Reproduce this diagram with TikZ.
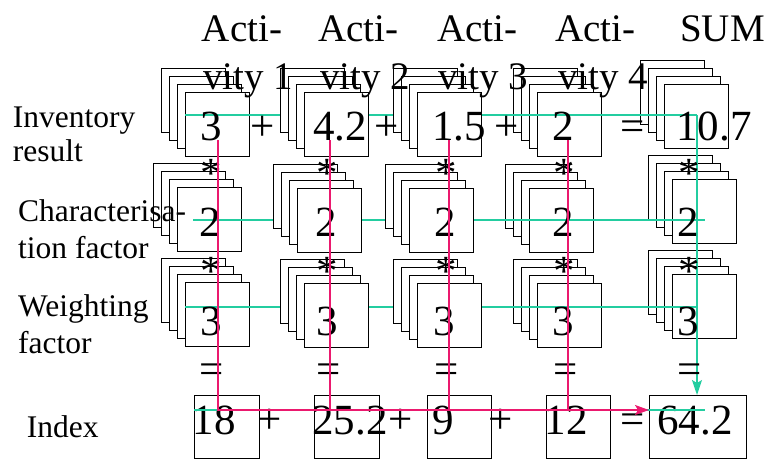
\documentclass[tikz,border=0pt]{standalone}
\usepackage{fontspec}
\setmainfont{Liberation Serif}
\usetikzlibrary{arrows.meta}
\definecolor{pinkc}{RGB}{235,25,110}
\definecolor{tealc}{RGB}{35,205,160}
\tikzset{
 sq/.style={draw=black, fill=white, line width=0.9pt, minimum width=64pt, minimum height=64pt, inner sep=0pt, outer sep=0pt, anchor=north west},
 ibox/.style={draw=black, line width=0.9pt, inner sep=0pt, outer sep=0pt, anchor=north west, minimum height=63pt},
 num/.style={font=\fontsize{43}{48}\selectfont, inner sep=0pt, anchor=base},
 hdr/.style={font=\fontsize{39}{47}\selectfont, inner sep=0pt, anchor=base west},
 lab/.style={font=\fontsize{31.5}{36}\selectfont, inner sep=0pt, anchor=base west},
 pinkline/.style={draw=pinkc, line width=1.4pt},
 tealline/.style={draw=tealc, line width=1.4pt},
 pinktip/.style={-{Stealth[length=14pt,width=10pt,inset=3pt]}},
}
\newcommand{\mystack}[3]{%
  \node[sq] (#1-3) at (#2-23.4,#3-24) {};
  \node[sq] (#1-2) at (#2-15.6,#3-16) {};
  \node[sq] (#1-1) at (#2-7.8,#3-8) {};
  \node[sq] (#1) at (#2,#3) {};
}
\begin{document}
\begin{tikzpicture}[x=1pt,y=-1pt]
\useasboundingbox (0,0) rectangle (768,459);
% stacks below the teal lines
\mystack{r1c1}{185}{92}
\mystack{r2c1}{177}{187}
\mystack{r3c1}{185}{282}
\mystack{r1c4}{537}{92}
\mystack{r2c4}{529}{188}
\mystack{r3c4}{537}{283}
\mystack{r1s}{664}{84}
\mystack{r2s}{672}{179}
\mystack{r3s}{672}{274}
% index boxes
\node[ibox, minimum width=65pt] (ib1) at (194,395) {};
\node[ibox, minimum width=65pt] (ib2) at (314,395) {};
\node[ibox, minimum width=64pt] (ib3) at (427,395) {};
\node[ibox, minimum width=64pt] (ib4) at (546,395) {};
\node[ibox, minimum width=97pt] (ib5) at (649,395) {};
% teal coordinates
\coordinate (t1a) at (185,115);
\coordinate (t1b) at (697,115);
\coordinate (t2a) at (193,220);
\coordinate (t2b) at (705,220);
\coordinate (t3a) at (185,307);
\coordinate (t3b) at (697,307);
\coordinate (t4a) at (194,410);
\coordinate (t4b) at (705,410);
\coordinate (t1c) at (697,395);
\draw[tealline] (t2a) -- (t2b);
\draw[tealline] (t3a) -- (t3b);
\draw[tealline] (t1a) -- (t1b);
% stacks above the teal lines
\mystack{r1c2}{304}{92}
\mystack{r2c2}{297}{188}
\mystack{r3c2}{304}{283}
\mystack{r1c3}{417}{92}
\mystack{r2c3}{409}{188}
\mystack{r3c3}{417}{283}
\draw[tealline, -{Stealth[length=15pt,width=10pt,inset=3pt]}] (t1b) -- (t1c);
% headers
\node[hdr] (h1a) at (201.7,41.7) {Acti-};
\node[hdr] (h1b) at (203,89) {vity 1};
\node[hdr] (h2a) at (318.3,41.7) {Acti-};
\node[hdr] (h2b) at (320,89) {vity 2};
\node[hdr] (h3a) at (437,41.7) {Acti-};
\node[hdr] (h3b) at (438,89) {vity 3};
\node[hdr] (h4a) at (555,41.7) {Acti-};
\node[hdr] (h4b) at (558,89) {vity 4};
\node[hdr] (hs) at (680,41.7) {SUM};
% row labels
\node[lab] (inv1) at (12.7,127.3) {Inventory};
\node[lab] (inv2) at (12.7,161.7) {result};
\node[lab] (ch1) at (18,221) {Characterisa-};
\node[lab] (ch2) at (18,258.3) {tion factor};
\node[lab] (w1) at (18,316.7) {Weighting};
\node[lab] (w2) at (18,353.3) {factor};
\node[lab] (idx) at (26.7,437.7) {Index};
% row 1 numbers and operators
\node[num] (n11) at (211,140) {3};
\node[num] (n12) at (340,140) {4.2};
\node[num] (n13) at (459,140) {1.5};
\node[num] (n14) at (563,140) {2};
\node[num] (n15) at (714,140) {10.7};
\node[num] (o11) at (262.5,140) {+};
\node[num] (o12) at (386.7,140) {+};
\node[num] (o13) at (506.7,140) {+};
\node[num] (o14) at (633,140) {=};
% row 2
\node[num] (a21) at (211,187) {*};
\node[num] (a22) at (327.5,187) {*};
\node[num] (a23) at (446,187) {*};
\node[num] (a24) at (564,187) {*};
\node[num] (a25) at (689,187) {*};
\node[num] (n21) at (210,236) {2};
\node[num] (n22) at (326.7,236) {2};
\node[num] (n23) at (445,236) {2};
\node[num] (n24) at (563,236) {2};
\node[num] (n25) at (688,236) {2};
% row 3
\node[num] (a31) at (211,285.5) {*};
\node[num] (a32) at (327.5,285.5) {*};
\node[num] (a33) at (446,285.5) {*};
\node[num] (a34) at (564,285.5) {*};
\node[num] (a35) at (689,285.5) {*};
\node[num] (n31) at (211,335) {3};
\node[num] (n32) at (327.5,335) {3};
\node[num] (n33) at (444,335) {3};
\node[num] (n34) at (563.5,335) {3};
\node[num] (n35) at (688,335) {3};
\node[num] (e1) at (212,383) {=};
\node[num] (e2) at (329,383) {=};
\node[num] (e3) at (447,383) {=};
\node[num] (e4) at (565.5,383) {=};
\node[num] (e5) at (690,383) {=};
% index row
\node[num] (n41) at (214,434) {18};
\node[num] (n42) at (350,434) {25.2};
\node[num] (n43) at (443,434) {9};
\node[num] (n44) at (566,434) {12};
\node[num] (n45) at (695,434) {64.2};
\node[num] (o41) at (270,433) {+};
\node[num] (o42) at (401,433) {+};
\node[num] (o43) at (500.3,433) {+};
\node[num] (o44) at (632.5,433) {=};
% bottom teal line
\draw[tealline] (t4a) -- (t4b);
% pink lines
\coordinate (p1a) at (218,140);
\coordinate (p1b) at (218,410);
\coordinate (p2a) at (330,140);
\coordinate (p2b) at (330,410);
\coordinate (p3a) at (449,140);
\coordinate (p3b) at (449,410);
\coordinate (p4a) at (568,140);
\coordinate (p4b) at (568,410);
\draw[pinkline] (p2a) -- (p2b);
\draw[pinkline] (p3a) -- (p3b);
\draw[pinkline] (p4a) -- (p4b);
\draw[pinkline, pinktip] (p1a) -- (p1b) -- (ib5.west |- p1b);
\end{tikzpicture}
\end{document}
